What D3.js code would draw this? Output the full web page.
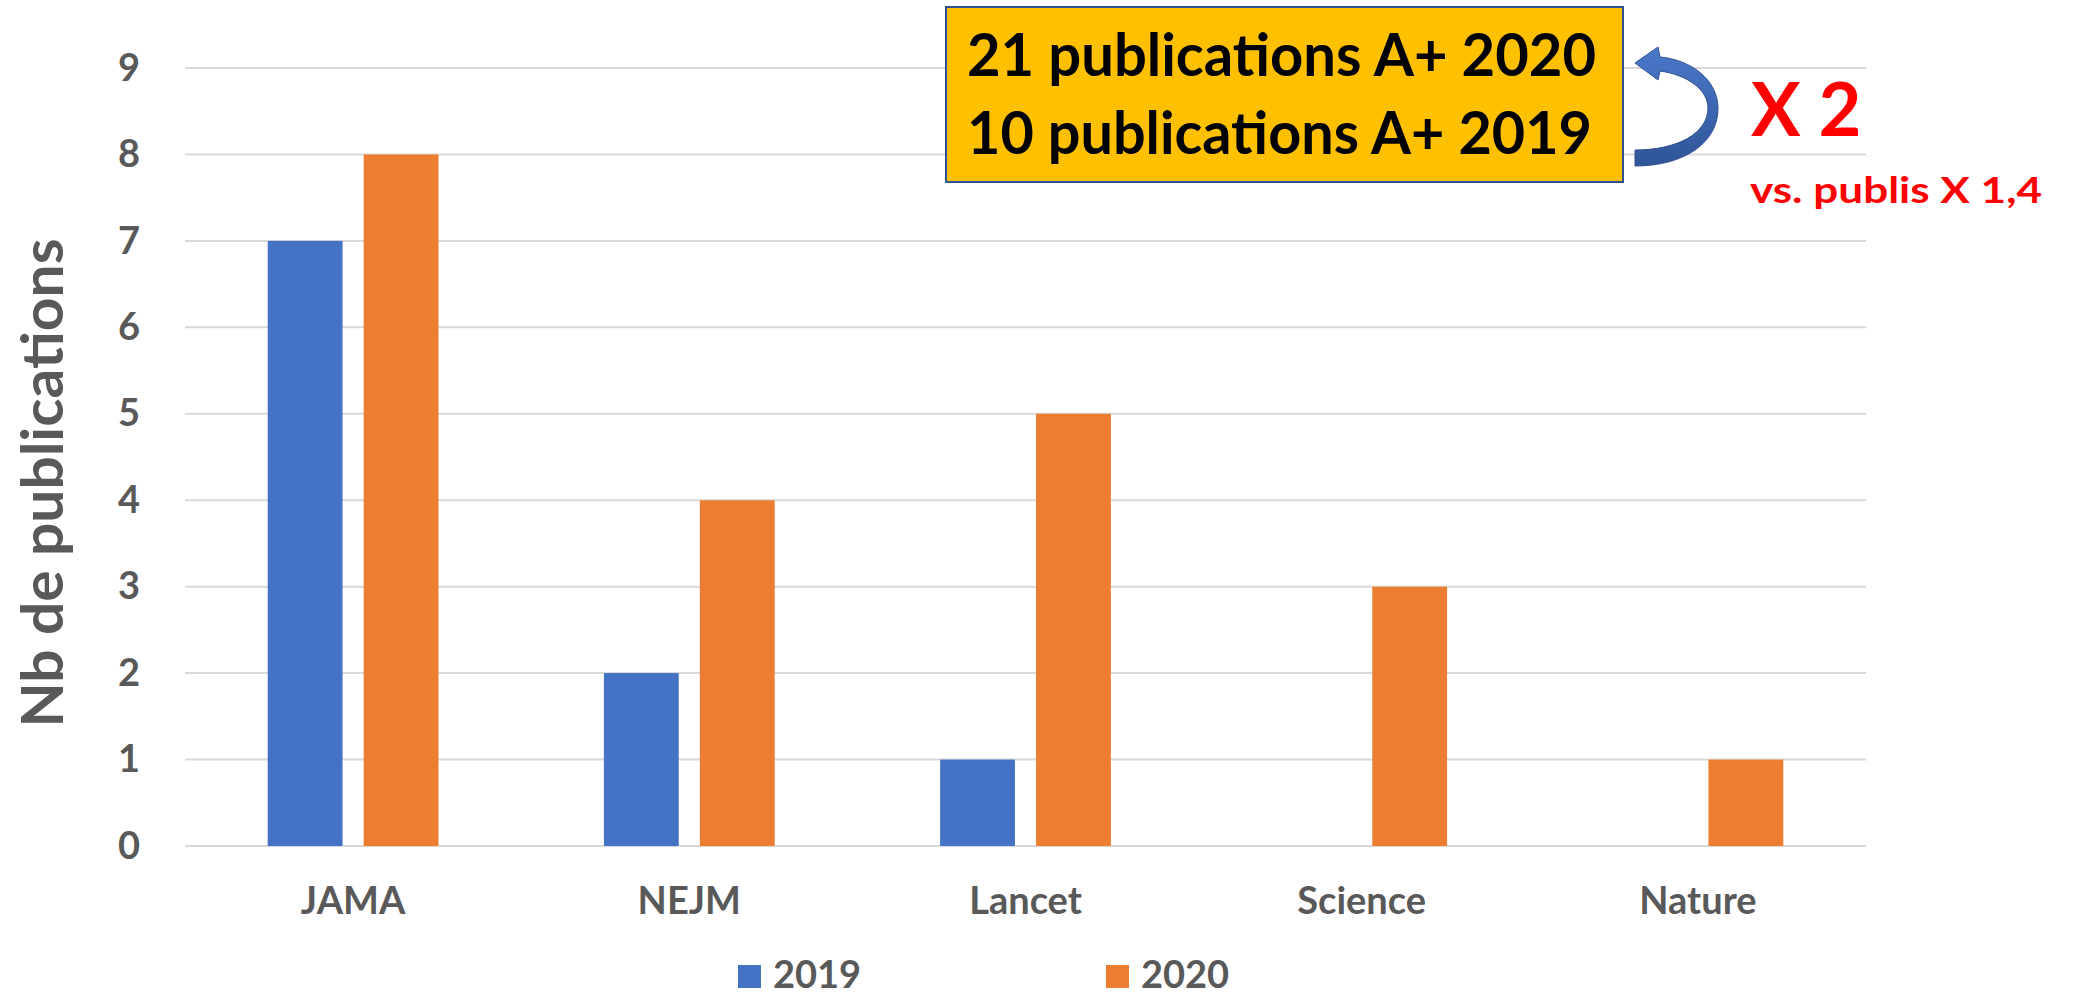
<!DOCTYPE html>
<html>
<head>
<meta charset="utf-8">
<script src="https://cdn.jsdelivr.net/npm/d3@7"></script>
<style>
  body { margin: 0; background: #fff; }
  svg { display: block; }
</style>
</head>
<body>
<script>
var w = 2073;
var h = 993;
var categories = ["JAMA", "NEJM", "Lancet", "Science", "Nature"];
var series = ["2019", "2020"];
var values2019 = [7, 2, 1, 0, 0];
var values2020 = [8, 4, 5, 3, 1];
var yTicks = [0, 1, 2, 3, 4, 5, 6, 7, 8, 9];
var colors = ["#4472C4", "#ED7D31"];
var boxLines = ["21 publications A+ 2020", "10 publications A+ 2019"];
var factorText = "X 2";
var subText = "vs. publis X 1,4";

var plot = { left: 185, right: 1866, top: 68, bottom: 846 };
var font = "Lato, 'Open Sans', sans-serif";
var grey = "#595959";

var svg = d3.select("body").append("svg").attr("width", w).attr("height", h);

var x0 = d3.scaleBand()
    .domain(categories)
    .range([plot.left, plot.right])
    .padding(0);
var bw = x0.bandwidth();
var x1 = d3.scaleBand()
    .domain(series)
    .range([bw * 0.246, bw * 0.754])
    .paddingInner(0.22);
var y = d3.scaleLinear()
    .domain([0, 9])
    .range([plot.bottom, plot.top]);

// gridlines
svg.append("g")
    .selectAll("line").data(yTicks).enter().append("line")
    .attr("x1", plot.left).attr("x2", plot.right)
    .attr("y1", function (d) { return y(d); })
    .attr("y2", function (d) { return y(d); })
    .style("stroke", "#D9D9D9")
    .style("stroke-width", 2);

// y axis labels
var yAxis = svg.append("g")
    .attr("transform", "translate(" + plot.left + ",0)")
    .call(d3.axisLeft(y).tickValues(yTicks).tickSize(0).tickPadding(45));
yAxis.select(".domain").remove();
yAxis.selectAll("text")
    .attr("font-family", font).attr("font-weight", 700)
    .attr("font-size", 38).attr("fill", grey);

// x axis labels
var xAxis = svg.append("g")
    .attr("transform", "translate(0," + plot.bottom + ")")
    .call(d3.axisBottom(x0).tickSize(0).tickPadding(41));
xAxis.select(".domain").remove();
xAxis.selectAll("text")
    .attr("font-family", font).attr("font-weight", 700)
    .attr("font-size", 38).attr("fill", grey);

// bars
var rows = categories.map(function (c, i) {
    return { cat: c, vals: [values2019[i], values2020[i]] };
});
var groups = svg.selectAll("g.grp").data(rows).enter().append("g")
    .attr("class", "grp")
    .attr("transform", function (d) { return "translate(" + x0(d.cat) + ",0)"; });
groups.selectAll("rect")
    .data(function (d) { return d.vals.map(function (v, j) { return { s: series[j], v: v, j: j }; }); })
    .enter().append("rect")
    .attr("x", function (d) { return x1(d.s); })
    .attr("y", function (d) { return y(d.v); })
    .attr("width", x1.bandwidth())
    .attr("height", function (d) { return y(0) - y(d.v); })
    .style("fill", function (d) { return colors[d.j]; });

// y title
svg.append("text")
    .attr("transform", "translate(63,483) rotate(-90)")
    .attr("text-anchor", "middle")
    .attr("font-family", font).attr("font-weight", 700)
    .attr("font-size", 58).attr("fill", grey)
    .attr("textLength", 489).attr("lengthAdjust", "spacingAndGlyphs")
    .text("Nb de publications");

// legend
var legendX = [738, 1106];
var legend = svg.selectAll("g.leg").data(series).enter().append("g")
    .attr("class", "leg")
    .attr("transform", function (d, i) { return "translate(" + legendX[i] + ",965)"; });
legend.append("rect")
    .attr("width", 23).attr("height", 23)
    .style("fill", function (d, i) { return colors[i]; });
legend.append("text")
    .attr("x", 35).attr("y", 23)
    .attr("font-family", font).attr("font-weight", 700)
    .attr("font-size", 38).attr("fill", grey)
    .text(function (d) { return d; });

// annotation box
svg.append("rect")
    .attr("x", 946).attr("y", 7).attr("width", 677).attr("height", 175)
    .style("fill", "#FFC000").style("stroke", "#2F528F").style("stroke-width", 2);
var lineLen = [629, 625];
svg.selectAll("text.box").data(boxLines).enter().append("text")
    .attr("class", "box")
    .attr("x", 967)
    .attr("y", function (d, i) { return 76 + i * 78; })
    .attr("font-family", font).attr("font-weight", 700)
    .attr("font-size", 59).attr("fill", "#000")
    .attr("textLength", function (d, i) { return lineLen[i]; })
    .attr("lengthAdjust", "spacingAndGlyphs")
    .text(function (d) { return d; });

// curved arrow
var defs = svg.append("defs");
var grad = defs.append("linearGradient").attr("id", "arrowGrad")
    .attr("x1", 0).attr("y1", 0).attr("x2", 0).attr("y2", 1);
grad.append("stop").attr("offset", "0%").attr("stop-color", "#4A78CA");
grad.append("stop").attr("offset", "100%").attr("stop-color", "#2F5597");
svg.append("path")
    .attr("d", "M1635,166 C1685,166 1719,142 1718,107 C1717,80 1692,60 1660,57 " +
        "L1658,47 L1635,63 L1658,80 L1660,71 C1688,75 1708,90 1708,108 " +
        "C1708,133 1678,150 1635,150 Z")
    .style("fill", "url(#arrowGrad)")
    .style("stroke", "#2F528F")
    .style("stroke-width", 1);

// red notes
svg.append("text")
    .attr("x", 1751).attr("y", 136)
    .attr("font-family", font).attr("font-weight", 700)
    .attr("font-size", 74).attr("fill", "#FF0000")
    .text(factorText);
svg.append("text")
    .attr("x", 1750).attr("y", 203)
    .attr("font-family", font).attr("font-weight", 700)
    .attr("font-size", 37).attr("fill", "#FF0000")
    .attr("textLength", 292).attr("lengthAdjust", "spacingAndGlyphs")
    .text(subText);
</script>
</body>
</html>
